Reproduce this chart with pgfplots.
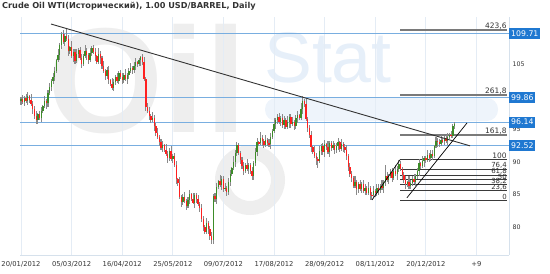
\documentclass[border=0pt]{standalone}
\usepackage{pgfplots}
\pgfplotsset{compat=1.18}
\usepackage{pgfplotstable}
\usepackage{fontspec}
\setmainfont{DejaVu Sans}
\newfontfamily\wmfont{Liberation Sans}
\definecolor{gridcol}{HTML}{E4ECF5}
\definecolor{framecol}{HTML}{D6E1EC}
\definecolor{blueline}{HTML}{79AEE0}
\definecolor{boxblue}{HTML}{1F78D1}
\definecolor{wick}{HTML}{8A8A8A}
\definecolor{upc}{HTML}{3C8C28}
\definecolor{dnc}{HTML}{FF2020}
\definecolor{txt}{HTML}{333333}
\definecolor{fibdark}{HTML}{3A3A3A}
\definecolor{fibgray}{HTML}{7A7A7A}
\definecolor{wmgray}{HTML}{EEEEEE}
\definecolor{wmblue}{HTML}{E6EFF9}
\definecolor{wmband}{HTML}{EEF4FB}

\pgfplotstableread{
i o h l c
0 99.3 100.0 98.8 99.6
1 99.6 100.3 98.9 99.2
2 99.2 100.2 98.6 99.9
3 99.9 100.4 99.0 99.4
4 99.4 100.7 98.7 100.1
5 100.1 100.3 99.1 99.5
6 99.5 100.4 98.6 98.9
7 98.9 99.3 97.4 98.2
8 98.2 98.6 96.6 97.1
9 97.1 97.8 95.9 96.5
10 96.5 97.6 95.9 97.3
11 97.3 97.8 96.4 96.8
12 96.8 98.5 96.1 97.9
13 97.9 98.8 97.5 98.6
14 98.6 100.2 98.3 99.3
15 99.3 99.7 98.2 99.0
16 99.0 101.0 98.5 100.6
17 100.6 102.2 100.3 101.5
18 101.5 102.7 100.9 102.4
19 102.4 103.6 102.0 103.1
20 103.1 104.6 102.4 104.0
21 104.0 105.8 103.6 105.6
22 105.6 107.3 105.3 106.4
23 106.4 108.3 105.6 107.9
24 107.9 110.0 107.4 109.6
25 109.6 110.3 108.1 108.4
26 108.4 109.6 107.8 109.3
27 109.3 110.5 108.5 108.9
28 108.9 109.5 106.3 107.0
29 107.0 107.8 106.6 107.6
30 107.6 108.5 105.9 106.2
31 106.2 107.3 105.4 106.9
32 106.9 107.3 105.0 105.5
33 105.5 107.3 105.2 106.6
34 106.6 107.5 106.0 107.2
35 107.2 107.7 105.6 106.0
36 106.0 106.6 104.4 105.1
37 105.1 106.5 104.7 106.3
38 106.3 108.0 106.0 107.1
39 107.1 107.5 105.6 106.4
40 106.4 106.8 105.1 105.6
41 105.6 107.5 105.3 106.8
42 106.8 107.8 106.2 107.5
43 107.5 108.0 106.5 106.9
44 106.9 107.5 105.5 106.2
45 106.2 106.4 105.0 105.4
46 105.4 107.5 105.1 106.6
47 106.6 107.0 105.1 105.9
48 105.9 106.3 104.3 104.8
49 104.8 105.5 103.6 103.9
50 103.9 104.2 102.6 103.2
51 103.2 104.6 102.8 104.1
52 104.1 104.7 101.9 102.6
53 102.6 102.8 101.6 102.0
54 102.0 102.9 101.1 101.4
55 101.4 102.7 100.9 102.3
56 102.3 103.4 101.8 103.0
57 103.0 103.7 102.2 102.5
58 102.5 103.9 101.9 103.6
59 103.6 104.1 102.7 103.1
60 103.1 103.7 101.9 102.6
61 102.6 103.6 102.2 103.4
62 103.4 104.3 102.5 102.8
63 102.8 103.7 102.0 103.3
64 103.3 104.4 102.8 104.0
65 104.0 105.2 103.7 104.5
66 104.5 104.8 103.5 104.1
67 104.1 105.3 103.7 104.8
68 104.8 105.9 104.1 105.3
69 105.3 105.5 104.6 105.0
70 105.0 106.0 104.7 105.6
71 105.6 106.2 104.8 106.1
72 106.1 106.5 104.9 105.4
73 105.4 106.1 102.4 102.7
74 102.7 103.0 97.9 98.5
75 98.5 99.0 97.5 97.9
76 97.9 98.5 96.4 97.1
77 97.1 97.3 96.0 96.4
78 96.4 97.7 96.1 96.8
79 96.8 97.2 94.8 95.6
80 95.6 96.0 94.0 94.5
81 94.5 95.2 93.6 93.9
82 93.9 94.2 92.5 93.1
83 93.1 93.6 91.8 92.2
84 92.2 93.2 91.5 92.6
85 92.6 92.8 91.5 91.9
86 91.9 92.8 91.0 91.3
87 91.3 91.7 89.8 90.6
88 90.6 92.1 90.1 91.7
89 91.7 92.4 90.1 90.4
90 90.4 91.2 89.8 90.9
91 90.9 91.4 89.2 89.6
92 89.6 90.2 86.7 87.4
93 87.4 87.6 86.4 86.8
94 86.8 87.7 84.3 84.6
95 84.6 85.0 83.1 83.9
96 83.9 85.1 83.4 84.7
97 84.7 85.4 83.8 84.1
98 84.1 84.4 82.7 83.3
99 83.3 84.7 82.9 84.2
100 84.2 85.7 83.5 85.1
101 85.1 85.3 84.0 84.4
102 84.4 85.3 83.5 83.8
103 83.8 85.3 83.0 84.9
104 84.9 85.3 83.8 84.3
105 84.3 85.0 83.3 83.6
106 83.6 83.9 82.4 83.0
107 83.0 83.5 80.8 81.2
108 81.2 81.8 79.4 80.1
109 80.1 80.3 78.9 79.3
110 79.3 81.5 79.0 80.6
111 80.6 81.0 79.0 79.8
112 79.8 80.2 78.1 78.6
113 78.6 79.3 77.4 78.1
114 78.1 85.1 77.5 84.8
115 84.8 85.3 83.9 84.3
116 84.3 86.8 83.6 86.2
117 86.2 87.3 85.8 87.1
118 87.1 88.0 86.2 86.5
119 86.5 87.8 85.7 87.4
120 87.4 87.8 85.4 85.9
121 85.9 86.8 85.6 86.1
122 86.1 86.4 84.8 85.4
123 85.4 87.5 85.0 87.0
124 87.0 88.8 86.3 88.2
125 88.2 89.3 87.8 89.1
126 89.1 90.9 88.8 90.0
127 90.0 91.8 89.2 91.4
128 91.4 93.1 90.9 92.6
129 92.6 92.9 91.1 91.4
130 91.4 91.7 89.7 90.3
131 90.3 90.8 89.0 89.4
132 89.4 90.0 88.0 88.7
133 88.7 89.8 88.3 89.6
134 89.6 90.5 88.6 88.9
135 88.9 89.9 88.1 89.5
136 89.5 89.9 88.1 88.6
137 88.6 89.3 87.3 87.9
138 87.9 90.1 87.3 89.8
139 89.8 92.1 89.4 91.6
140 91.6 93.7 90.9 93.1
141 93.1 93.3 92.5 92.9
142 92.9 94.6 92.6 93.7
143 93.7 94.1 92.4 93.2
144 93.2 93.6 92.1 92.6
145 92.6 94.1 92.3 93.4
146 93.4 93.7 92.4 93.0
147 93.0 93.5 92.3 92.7
148 92.7 94.5 92.0 93.9
149 93.9 95.0 93.5 94.8
150 94.8 96.7 94.5 95.8
151 95.8 96.8 95.0 96.4
152 96.4 97.3 95.9 96.9
153 96.9 97.6 95.9 96.2
154 96.2 97.1 95.6 96.8
155 96.8 97.3 95.3 95.7
156 95.7 97.1 95.0 96.5
157 96.5 96.7 95.0 95.4
158 95.4 97.0 95.1 96.1
159 96.1 97.3 95.3 96.9
160 96.9 97.3 95.3 95.8
161 95.8 96.9 95.5 96.2
162 96.2 96.5 94.9 95.5
163 95.5 97.2 95.1 96.7
164 96.7 97.8 96.0 97.2
165 97.2 97.4 96.4 96.8
166 96.8 99.0 96.5 98.1
167 98.1 100.2 97.3 99.3
168 99.3 99.7 98.4 98.9
169 98.9 99.6 96.3 96.6
170 96.6 96.9 94.6 95.2
171 95.2 95.7 93.7 94.1
172 94.1 94.7 91.6 92.3
173 92.3 92.5 91.2 91.6
174 91.6 92.5 90.7 91.0
175 91.0 91.4 89.6 90.4
176 90.4 90.8 89.1 90.1
177 90.1 92.4 89.8 91.7
178 91.7 92.7 91.1 92.4
179 92.4 92.9 91.1 91.5
180 91.5 93.4 90.8 92.8
181 92.8 93.0 91.9 92.3
182 92.3 93.2 91.3 91.6
183 91.6 93.3 90.8 92.9
184 92.9 93.3 91.7 92.2
185 92.2 93.3 91.9 92.6
186 92.6 92.9 91.2 91.8
187 91.8 93.0 91.4 92.5
188 92.5 93.7 91.8 93.1
189 93.1 93.3 91.6 92.0
190 92.0 93.6 91.7 92.7
191 92.7 93.1 91.5 92.3
192 92.3 92.7 91.4 91.9
193 91.9 92.6 90.3 91.0
194 91.0 91.3 88.7 89.3
195 89.3 89.8 87.7 88.1
196 88.1 88.7 86.9 87.6
197 87.6 87.8 86.0 86.4
198 86.4 87.8 86.1 86.9
199 86.9 87.3 85.0 85.8
200 85.8 87.0 85.3 86.6
201 86.6 87.3 85.6 85.9
202 85.9 87.0 85.3 86.7
203 86.7 87.2 85.2 85.6
204 85.6 86.7 84.9 86.1
205 86.1 86.3 84.9 85.3
206 85.3 86.9 85.0 86.0
207 86.0 86.4 84.2 85.0
208 85.0 85.4 84.2 84.9
209 84.9 86.3 84.6 85.6
210 85.6 85.9 84.6 85.2
211 85.2 86.6 84.8 86.1
212 86.1 86.7 85.0 85.7
213 85.7 86.6 85.3 86.4
214 86.4 87.3 85.7 86.0
215 86.0 87.3 85.2 86.9
216 86.9 89.6 86.4 87.8
217 87.8 88.5 86.9 87.2
218 87.2 88.2 86.6 87.9
219 87.9 89.0 87.5 88.5
220 88.5 89.1 86.9 87.6
221 87.6 88.8 87.2 88.6
222 88.6 89.5 87.8 88.1
223 88.1 89.4 87.3 89.0
224 89.0 90.35 88.5 89.7
225 89.7 90.2 88.6 88.9
226 88.9 89.2 87.4 88.0
227 88.0 88.5 86.8 87.2
228 87.2 87.8 85.9 86.6
229 86.6 87.1 86.2 86.9
230 86.9 87.8 85.8 86.3
231 86.3 87.2 85.9 86.8
232 86.8 87.8 86.3 87.4
233 87.4 88.1 86.7 87.0
234 87.0 88.1 86.4 87.8
235 87.8 89.1 87.4 88.6
236 88.6 90.4 87.9 89.8
237 89.8 90.0 89.0 89.4
238 89.4 91.0 89.1 90.1
239 90.1 91.0 89.3 90.6
240 90.6 91.0 89.8 90.3
241 90.3 91.8 90.0 91.1
242 91.1 91.4 90.0 90.6
243 90.6 91.8 90.2 91.3
244 91.3 91.9 90.3 91.0
245 91.0 92.6 90.6 92.4
246 92.4 93.9 92.1 93.3
247 93.3 93.7 92.3 93.1
248 93.1 93.5 92.3 92.8
249 92.8 94.1 92.5 93.4
250 93.4 93.7 92.9 93.2
251 93.2 94.0 92.6 93.7
252 93.7 94.2 92.9 93.3
253 93.3 94.5 92.6 93.9
254 93.9 94.4 93.5 94.2
255 94.2 94.7 93.7 94.0
256 94.0 95.9 93.7 95.5
257 95.5 96.2 95.1 95.9
}\ohlc

\begin{document}
\begin{tikzpicture}[x=1bp,y=1bp]
\useasboundingbox (0,0) rectangle (550,273);
% watermark
\fill[wmband, rounded corners=11bp] (265,152) rectangle (498,175);
\draw[wmgray, line width=14bp] (250,93) circle (28);
\node[anchor=base west, inner sep=0, text=wmgray, font={\wmfont\bfseries\fontsize{150}{160}\selectfont}] at (47,141) {Oil};
\node[anchor=base west, inner sep=0, text=wmblue, font={\wmfont\fontsize{72}{76}\selectfont}] at (264,191) {Stat};
% title
\node[anchor=west, inner sep=0, text=txt, font={\bfseries\fontsize{8.2}{9}\selectfont}] at (2,266.5) {Crude Oil WTI(Исторический), 1.00 USD/BARREL, Daily};

\begin{axis}[
  at={(20bp,18bp)}, anchor=south west,
  scale only axis, width=489bp, height=238bp,
  xmin=-0.6, xmax=289.3, ymin=75.75, ymax=112.25,
  axis x line*=bottom, axis y line*=right,
  axis line style={draw=framecol, line width=0.8bp, -},
  xtick={0,30,60,90,120,150,180,210,240,270},
  xticklabels={20/01/2012,05/03/2012,16/04/2012,25/05/2012,09/07/2012,17/08/2012,28/09/2012,08/11/2012,20/12/2012,+9},
  ytick={80,85,90,95,105},
  xmajorgrids, ymajorgrids=false,
  grid style={draw=gridcol, line width=0.8bp},
  major tick length=0pt,
  /pgf/number format/assume math mode=true,
  xticklabel style={font={\fontsize{6.8}{8}\selectfont}, text=txt, yshift=-2.5bp},
  yticklabel style={font={\fontsize{6.3}{7.5}\selectfont}, text=txt, anchor=west},
  clip=false,
]
% blue horizontal levels
\addplot[blueline, line width=1bp] coordinates {(-0.6,109.71) (289.3,109.71)};
\addplot[blueline, line width=1bp] coordinates {(-0.6,99.86) (289.3,99.86)};
\addplot[blueline, line width=1bp] coordinates {(-0.6,96.14) (289.3,96.14)};
\addplot[blueline, line width=1bp] coordinates {(-0.6,92.52) (289.3,92.52)};
% fibonacci levels
\addplot[fibgray, line width=1.5bp] coordinates {(224.7,110.25) (288.3,110.25)};
\addplot[fibgray, line width=1.5bp] coordinates {(224.7,100.30) (288.3,100.30)};
\addplot[fibgray, line width=1.5bp] coordinates {(224.7,94.15) (288.3,94.15)};
\addplot[fibdark, line width=0.8bp] coordinates {(224.7,90.35) (288.3,90.35)};
\addplot[fibdark, line width=0.8bp] coordinates {(224.7,88.90) (288.3,88.90)};
\addplot[fibdark, line width=0.8bp] coordinates {(224.7,88.00) (288.3,88.00)};
\addplot[fibdark, line width=0.8bp] coordinates {(224.7,87.28) (288.3,87.28)};
\addplot[fibdark, line width=0.8bp] coordinates {(224.7,86.55) (288.3,86.55)};
\addplot[fibdark, line width=0.8bp] coordinates {(224.7,85.65) (288.3,85.65)};
\addplot[fibdark, line width=0.8bp] coordinates {(224.7,84.20) (288.3,84.20)};
% candles: wicks
\addplot[draw=none, no markers, error bars/.cd, y dir=both, y explicit, error mark=none,
  error bar style={draw=wick, line width=1.05bp}]
  table[x=i, y expr={(\thisrow{h}+\thisrow{l})/2}, y error expr={(\thisrow{h}-\thisrow{l})/2}] {\ohlc};
% up bodies
\addplot[draw=none, no markers, restrict expr to domain={\thisrow{c}-\thisrow{o}}{0:100},
  error bars/.cd, y dir=both, y explicit, error mark=none,
  error bar style={draw=upc, line width=1.35bp}]
  table[x=i, y expr={(\thisrow{o}+\thisrow{c})/2}, y error expr={(\thisrow{c}-\thisrow{o})/2}] {\ohlc};
% down bodies
\addplot[draw=none, no markers, restrict expr to domain={\thisrow{o}-\thisrow{c}}{0.001:100},
  error bars/.cd, y dir=both, y explicit, error mark=none,
  error bar style={draw=dnc, line width=1.35bp}]
  table[x=i, y expr={(\thisrow{o}+\thisrow{c})/2}, y error expr={(\thisrow{o}-\thisrow{c})/2}] {\ohlc};
% trend lines
\addplot[txt, line width=0.9bp] coordinates {(17.8,111.17) (266.2,92.49)};
\addplot[black, line width=0.7bp] coordinates {(208.1,84.2) (224.7,90.35)};
\addplot[black, line width=0.7bp] coordinates {(228.8,84.53) (264.4,96.0)};
% fib labels
\begin{scope}[every node/.style={anchor=south east, inner sep=0.6bp, text=txt, font={\fontsize{7.5}{8}\selectfont}}]
\node at (axis cs:288.3,110.25) {423,6};
\node at (axis cs:288.3,100.30) {261,8};
\node at (axis cs:288.3,94.15) {161,8};
\node at (axis cs:288.3,90.35) {100};
\end{scope}
\begin{scope}[every node/.style={anchor=south east, inner sep=0.3bp, text=txt, font={\fontsize{7}{7.5}\selectfont}}]
\node at (axis cs:288.3,88.90) {76,4};
\node at (axis cs:288.3,88.00) {61,8};
\node at (axis cs:288.3,87.28) {50};
\node at (axis cs:288.3,86.55) {38,2};
\node at (axis cs:288.3,85.65) {23,6};
\node at (axis cs:288.3,84.20) {0};
\end{scope}
% value boxes
\begin{scope}[every node/.style={anchor=west, fill=boxblue, text=white, inner xsep=2bp, inner ysep=0pt, minimum height=11bp, font={\fontsize{7.8}{8}\selectfont}}]
\node at (axis cs:289.3,109.71) {109.71};
\node at (axis cs:289.3,99.86) {99.86};
\node at (axis cs:289.3,96.14) {96.14};
\node at (axis cs:289.3,92.52) {92.52};
\end{scope}
\end{axis}
\end{tikzpicture}
\end{document}
